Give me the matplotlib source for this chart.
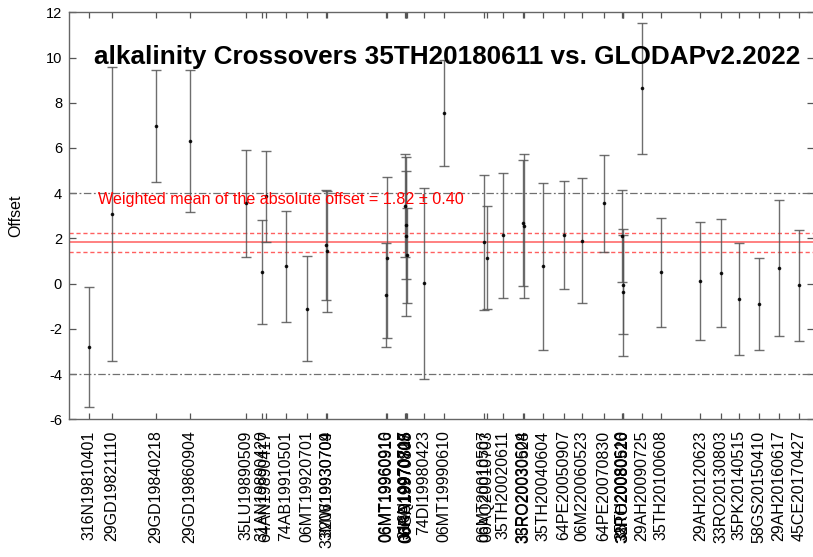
import matplotlib
matplotlib.use("Agg")
import matplotlib.pyplot as plt

plt.rcParams['font.family'] = ['Liberation Sans', 'DejaVu Sans']
plt.rcParams['axes.unicode_minus'] = False

# Cruise labels (tick labels), cruise time (decimal year), offset and its uncertainty
cruises = [
    "316N19810401", "29GD19821110", "29GD19840218", "29GD19860904",
    "35LU19890509", "31AN19890420", "64AN19890417", "74AB19910501",
    "06MT19920701", "33MW19930704", "320619930709",
    "06MT19960910", "06MT19960916",
    "316N19970717", "06AQ19970726", "33RR19970805", "06GA19970808",
    "74DI19980423", "06MT19990610",
    "06MT20010507", "06AQ20010703", "35TH20020611",
    "33RO20030604", "35RO20030528", "35TH20040604",
    "64PE20050907", "06M220060523", "64PE20070830",
    "35TH20080610", "33RO20080526", "32PO20080520",
    "29AH20090725", "35TH20100608", "29AH20120623", "33RO20130803",
    "35PK20140515", "58GS20150410", "29AH20160617", "45CE20170427",
]
years = [
    1981.36, 1982.50, 1984.73, 1986.46,
    1989.30, 1990.13, 1990.30, 1991.33,
    1992.39, 1993.38, 1993.42,
    1996.40, 1996.46,
    1997.36, 1997.40, 1997.43, 1997.46,
    1998.32, 1999.35,
    2001.38, 2001.53, 2002.31,
    2003.33, 2003.39, 2004.37,
    2005.42, 2006.33, 2007.43,
    2008.36, 2008.40, 2008.43,
    2009.37, 2010.34, 2012.33, 2013.39,
    2014.31, 2015.29, 2016.32, 2017.32,
]
offsets = [
    -2.80, 3.08, 6.97, 6.30,
    3.56, 0.52, 3.86, 0.77,
    -1.10, 1.69, 1.43,
    -0.50, 1.15,
    3.45, 2.60, 2.10, 1.25,
    0.02, 7.56,
    1.82, 1.14, 2.13,
    2.69, 2.56, 0.77,
    2.15, 1.90, 3.55,
    2.12, -0.38, -0.04,
    8.63, 0.50, 0.12, 0.48,
    -0.68, -0.90, 0.69, -0.08,
]
errors = [
    2.64, 6.48, 2.47, 3.14,
    2.37, 2.30, 2.02, 2.45,
    2.31, 2.43, 2.67,
    2.30, 3.55,
    2.29, 2.40, 3.52, 2.10,
    4.23, 2.34,
    2.97, 2.28, 2.76,
    2.78, 3.18, 3.70,
    2.39, 2.75, 2.14,
    2.03, 2.80, 2.20,
    2.90, 2.40, 2.62, 2.39,
    2.47, 2.03, 3.00, 2.45,
]
mean_offset = 1.82
mean_err = 0.40
threshold = 4.0
title = "alkalinity Crossovers 35TH20180611 vs. GLODAPv2.2022"

W, H = 813, 557
fig = plt.figure(figsize=(W / 100, H / 100), dpi=100)
ax = fig.add_axes([69 / W, (H - 419.3) / H, (814 - 69) / W, (419.3 - 12.3) / H])

ax.axhline(threshold, color='#707070', lw=0.9, ls='-.', dashes=(6, 2, 1.5, 2))
ax.axhline(-threshold, color='#707070', lw=0.9, ls='-.', dashes=(6, 2, 1.5, 2))
ax.axhline(mean_offset, color='#ff8080', lw=1.4)
ax.axhline(mean_offset + mean_err, color='#ff6060', lw=1.0, ls='--', dashes=(3, 2))
ax.axhline(mean_offset - mean_err, color='#ff6060', lw=1.0, ls='--', dashes=(3, 2))

ax.errorbar(years, offsets, yerr=errors, fmt='o', color='black', ms=1.6,
            ecolor='#555555', elinewidth=1.0, capsize=3.6, capthick=1.0, alpha=0.85)

ax.text(0.039, 3.7, "Weighted mean of the absolute offset = %.2f \u00b1 %.2f" % (mean_offset, mean_err),
        transform=ax.get_yaxis_transform(), color='red', fontsize=11.6, va='center', ha='left')
ax.text(0.508, 0.89, title, transform=ax.transAxes, fontsize=18.8, fontweight='bold',
        ha='center', va='center')

ax.set_xlim(1980.33, 2018.09)
ax.set_ylim(-6, 12)
ax.set_yticks(range(-6, 13, 2))
ax.set_xticks(years)
ax.set_xticklabels(cruises, rotation=90, fontsize=11.5)
ax.tick_params(axis='x', direction='in', top=True, length=4, width=0.9, color='#555555', pad=8)
ax.tick_params(axis='y', direction='in', right=True, length=5, width=0.9, color='#555555', labelsize=10.5, pad=5)
for s in ax.spines.values():
    s.set_color('#666666')
    s.set_linewidth(1.0)
ax.set_ylabel("Offset", fontsize=11.5, labelpad=16)

fig.savefig("out.png", dpi=100)
